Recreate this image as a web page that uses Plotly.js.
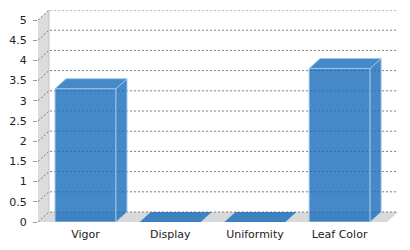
<!DOCTYPE html>
<html>
<head>
<meta charset="utf-8">
<script src="https://cdn.plot.ly/plotly-3.0.1.min.js"></script>
<style>html,body{margin:0;padding:0;background:#fff;}#chart{width:410px;height:250px;}</style>
</head>
<body>
<div id="chart"></div>
<script>
// ---- data ----
const categories = ['Vigor', 'Display', 'Uniformity', 'Leaf Color'];
const values = [3.3, 0, 0, 3.8];
const yTickVals = [0, 0.5, 1, 1.5, 2, 2.5, 3, 3.5, 4, 4.5, 5];
const yTickText = ['0', '0.5', '1', '1.5', '2', '2.5', '3', '3.5', '4', '4.5', '5'];

// ---- geometry (pseudo 3D) ----
const YMAXV = 5;
const XMIN = -0.561, XMAX = 3.689;
const PLOT_W = 360, PLOT_H = 212;
const DEPTH_X_PX = 11, DEPTH_Y_PX = 10;
const DXU = DEPTH_X_PX / (PLOT_W / (XMAX - XMIN));
const YMAX = YMAXV * PLOT_H / (PLOT_H - DEPTH_Y_PX);
const DYU = YMAX - YMAXV;
const BW = 0.72;

const barFill = 'rgba(24,108,187,0.8)';
const barEdge = 'rgba(165,200,235,0.9)';
const traces = [];

// left wall
traces.push({type: 'scatter', mode: 'lines', xaxis: 'x', yaxis: 'y', hoverinfo: 'skip', showlegend: false,
  x: [XMIN, XMIN, XMIN + DXU, XMIN + DXU, XMIN], y: [0, YMAXV, YMAXV + DYU, DYU, 0],
  fill: 'toself', fillcolor: '#dcdcdc', line: {width: 0, color: 'rgba(0,0,0,0)'}});
// floor
traces.push({type: 'scatter', mode: 'lines', xaxis: 'x', yaxis: 'y', hoverinfo: 'skip', showlegend: false,
  x: [XMIN, XMAX - DXU, XMAX, XMIN + DXU, XMIN], y: [0, 0, DYU, DYU, 0],
  fill: 'toself', fillcolor: '#d9d9d9', line: {width: 0, color: 'rgba(0,0,0,0)'}});
// wall back edge
traces.push({type: 'scatter', mode: 'lines', xaxis: 'x', yaxis: 'y', hoverinfo: 'skip', showlegend: false,
  x: [XMIN + DXU, XMIN + DXU], y: [DYU, YMAXV + DYU], line: {width: 1, color: '#c4c4c4'}});
// grid lines: diagonal on wall + horizontal on back plane
const gx = [], gy = [];
yTickVals.forEach(k => {
  gx.push(XMIN, XMIN + DXU, XMAX, null);
  gy.push(k, k + DYU, k + DYU, null);
});
traces.push({type: 'scatter', mode: 'lines', xaxis: 'x', yaxis: 'y', hoverinfo: 'skip', showlegend: false,
  x: gx, y: gy, line: {width: 1, color: '#7a7a7a', dash: '2px,2px'}});

// front faces of bars
traces.push({type: 'bar', xaxis: 'x2', yaxis: 'y2', x: [0, 1, 2, 3], y: values, width: BW,
  marker: {color: barFill, line: {color: barEdge, width: 1}}, hoverinfo: 'skip', showlegend: false});
// side and top faces
values.forEach((v, i) => {
  const l = i - BW / 2, r = i + BW / 2;
  if (v > 0) {
    traces.push({type: 'scatter', mode: 'lines', xaxis: 'x2', yaxis: 'y2', hoverinfo: 'skip', showlegend: false,
      x: [r, r + DXU, r + DXU, r, r], y: [0, DYU, v + DYU, v, 0],
      fill: 'toself', fillcolor: barFill, line: {width: 1, color: barEdge}});
  }
  traces.push({type: 'scatter', mode: 'lines', xaxis: 'x2', yaxis: 'y2', hoverinfo: 'skip', showlegend: false,
    x: [l, r, r + DXU, l + DXU, l], y: [v, v, v + DYU, v + DYU, v],
    fill: 'toself', fillcolor: barFill, line: {width: v > 0 ? 1 : 0, color: barEdge}});
});

const font = {family: 'DejaVu Sans, Verdana, sans-serif', size: 11, color: '#222'};
const layout = {
  width: 410, height: 250,
  margin: {l: 38, r: 12, t: 10, b: 28, pad: 0},
  paper_bgcolor: '#fff', plot_bgcolor: 'rgba(0,0,0,0)',
  showlegend: false, font: font,
  xaxis: {range: [XMIN, XMAX], tickvals: [0, 1, 2, 3], ticktext: categories, showgrid: false,
    zeroline: false, showline: false, ticks: '', ticklabelstandoff: 4, tickfont: font, fixedrange: true},
  yaxis: {range: [0, YMAX], tickvals: yTickVals, ticktext: yTickText, showgrid: false, zeroline: false,
    showline: false, ticks: 'outside', ticklen: 4, tickcolor: '#999', tickwidth: 1,
    ticklabelstandoff: 4, tickfont: font, fixedrange: true},
  xaxis2: {range: [XMIN, XMAX], overlaying: 'x', visible: false, fixedrange: true},
  yaxis2: {range: [0, YMAX], overlaying: 'y', visible: false, fixedrange: true},
  bargap: 0
};
Plotly.newPlot('chart', traces, layout, {staticPlot: true, displayModeBar: false});
</script>
</body>
</html>
